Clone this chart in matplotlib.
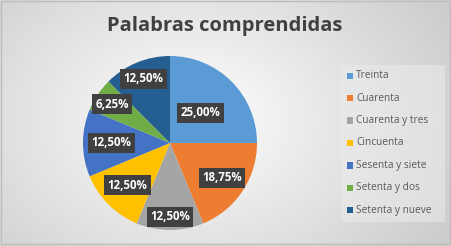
import numpy as np
import matplotlib
matplotlib.use("Agg")
import matplotlib.pyplot as plt
from matplotlib.patches import Rectangle

title = "Palabras comprendidas"
categories = ["Treinta", "Cuarenta", "Cuarenta y tres", "Cincuenta",
              "Sesenta y siete", "Setenta y dos", "Setenta y nueve"]
values = [25.00, 18.75, 12.50, 12.50, 12.50, 6.25, 12.50]
colors = ["#5B9BD5", "#ED7D31", "#A5A5A5", "#FFC000", "#4472C4", "#70AD47", "#255E91"]
label_dist = [0.49, 0.72, 0.85, 0.69, 0.67, 0.80, 0.80]

W, H = 451, 246
fig = plt.figure(figsize=(W / 100, H / 100), dpi=100)

# background radial gradient
bg = fig.add_axes([0, 0, 1, 1])
yy, xx = np.mgrid[0:H, 0:W]
r = np.sqrt(((xx - 190) / 300.0) ** 2 + ((yy - 120) / 220.0) ** 2)
r = np.clip(r, 0, 1)
v = 1.0 - 0.20 * r
img = np.dstack([v, v, v])
bg.imshow(img, extent=[0, W, H, 0], aspect="auto")
bg.set_xlim(0, W)
bg.set_ylim(H, 0)
bg.axis("off")
bg.add_patch(Rectangle((0.5, 0.5), W - 2, H - 2.5, fill=False, ec="#BDBDBD", lw=1))
# legend box
bg.add_patch(Rectangle((341, 65), 104, 157, fc="#EBEBEB", ec="none", alpha=0.55))

fig.text(224.5 / W, 1 - 26 / H, title, ha="center", va="center",
         fontsize=14.5, fontweight="bold", color="#404040", family="Open Sans")

# pie axes: center (170,143), radius 87
cx, cy, rad = 170, 143, 87
ax = fig.add_axes([(cx - rad) / W, 1 - (cy + rad) / H, 2 * rad / W, 2 * rad / H])
wedges, texts = ax.pie(values, colors=colors, startangle=90, counterclock=False,
                       radius=1.0, wedgeprops=dict(linewidth=0))
ax.set_xlim(-1, 1)
ax.set_ylim(-1, 1)
ax.set_aspect("auto")
for w, val, d in zip(wedges, values, label_dist):
    ang = np.deg2rad((w.theta1 + w.theta2) / 2)
    ax.text(d * np.cos(ang), d * np.sin(ang), f"{val:.2f}%".replace(".", ","),
            ha="center", va="center", color="white", fontsize=8.3,
            fontweight="bold", family="Open Sans",
            bbox=dict(boxstyle="square,pad=0.3", fc="#404040", ec="none"))

# legend
ly0, ldy = 75.7, 22.4
for i, (c, lab) in enumerate(zip(colors, categories)):
    y = ly0 + i * ldy
    bg.add_patch(Rectangle((347, y - 3.2), 6.4, 6.4, fc=c, ec="none"))
    bg.text(356, y, lab, ha="left", va="center", fontsize=7.3,
            color="#595959", family="Open Sans")

fig.savefig("out.png", dpi=100)
